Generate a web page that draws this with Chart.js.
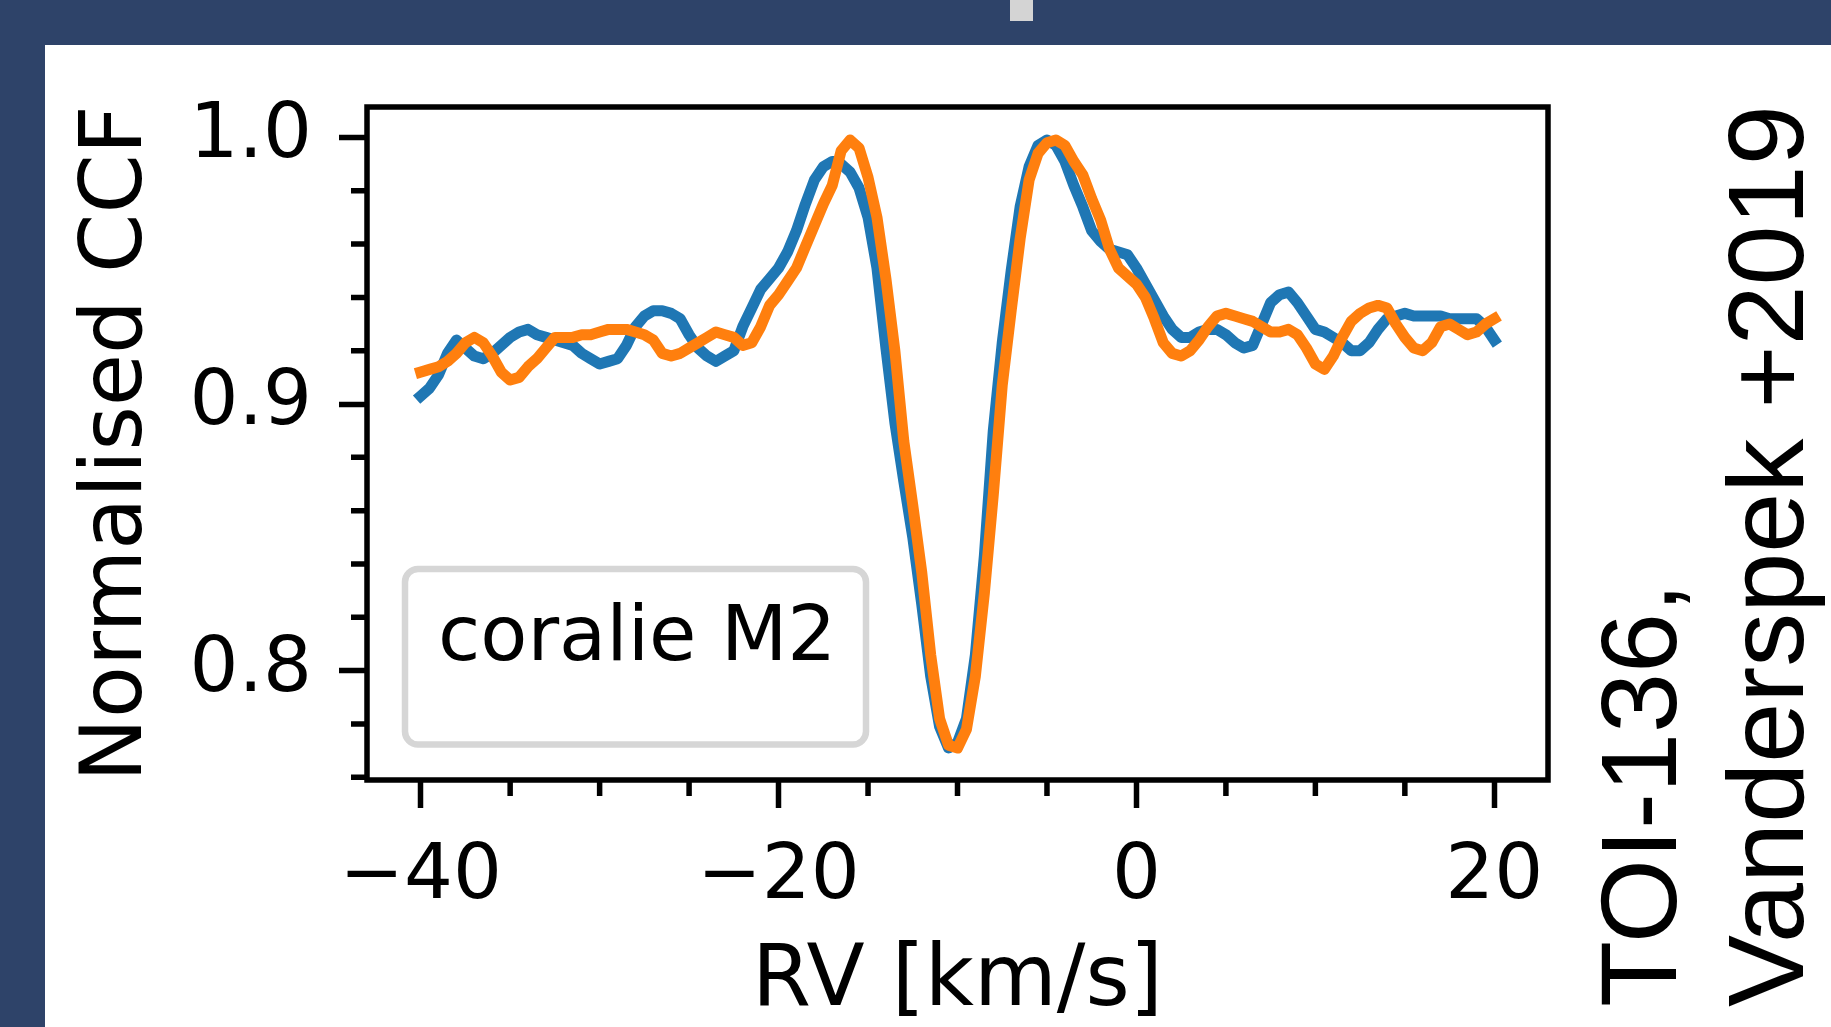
<!DOCTYPE html>
<html>
<head>
<meta charset="utf-8">
<script src="https://cdn.jsdelivr.net/npm/chart.js@4/dist/chart.umd.min.js"></script>
<style>
	html, body { margin: 0; padding: 0; }
	body { width: 1831px; height: 1027px; background: #2e4369; position: relative; overflow: hidden; }
	#tab { position: absolute; left: 1010px; top: 0; width: 23px; height: 21px; background: #d4d4d4; }
	#panel { position: absolute; left: 45px; top: 45px; width: 1786px; height: 982px; background: #fff; }
</style>
</head>
<body>
<div id="tab"></div>
<div id="panel"><canvas id="ccf" width="1786" height="982"></canvas></div>
<script>
/* data */
const rvKms = [
	-40, -39.5, -39, -38.5, -38, -37.5, -37, -36.5, -36, -35.5,
	-35, -34.5, -34, -33.5, -33, -32.5, -32, -31.5, -31, -30.5,
	-30, -29.5, -29, -28.5, -28, -27.5, -27, -26.5, -26, -25.5,
	-25, -24.5, -24, -23.5, -23, -22.5, -22, -21.5, -21, -20.5,
	-20, -19.5, -19, -18.5, -18, -17.5, -17, -16.5, -16, -15.5,
	-15, -14.5, -14, -13.5, -13, -12.5, -12, -11.5, -11, -10.5,
	-10, -9.5, -9, -8.5, -8, -7.5, -7, -6.5, -6, -5.5,
	-5, -4.5, -4, -3.5, -3, -2.5, -2, -1.5, -1, -0.5,
	0, 0.5, 1, 1.5, 2, 2.5, 3, 3.5, 4, 4.5,
	5, 5.5, 6, 6.5, 7, 7.5, 8, 8.5, 9, 9.5,
	10, 10.5, 11, 11.5, 12, 12.5, 13, 13.5, 14, 14.5,
	15, 15.5, 16, 16.5, 17, 17.5, 18, 18.5, 19, 19.5,
	20,
];

// blue curve
const ccfObsA = [
	0.903, 0.906, 0.911, 0.919, 0.924, 0.921, 0.918, 0.917, 0.919, 0.922,
	0.925, 0.927, 0.928, 0.926, 0.925, 0.924, 0.923, 0.922, 0.919, 0.917,
	0.915, 0.916, 0.917, 0.922, 0.929, 0.933, 0.935, 0.935, 0.934, 0.932,
	0.926, 0.921, 0.918, 0.916, 0.918, 0.920, 0.929, 0.936, 0.943, 0.947,
	0.951, 0.957, 0.965, 0.975, 0.984, 0.989, 0.991, 0.990, 0.987, 0.981,
	0.970, 0.951, 0.921, 0.893, 0.871, 0.850, 0.825, 0.798, 0.779, 0.771,
	0.773, 0.782, 0.806, 0.843, 0.890, 0.923, 0.950, 0.974, 0.989, 0.997,
	0.999, 0.997, 0.991, 0.982, 0.974, 0.965, 0.961, 0.958, 0.957, 0.956,
	0.951, 0.945, 0.939, 0.933, 0.928, 0.925, 0.925, 0.927, 0.928, 0.928,
	0.926, 0.923, 0.921, 0.922, 0.930, 0.938, 0.941, 0.942, 0.938, 0.933,
	0.928, 0.927, 0.925, 0.923, 0.920, 0.920, 0.923, 0.928, 0.932, 0.933,
	0.934, 0.933, 0.933, 0.933, 0.933, 0.932, 0.932, 0.932, 0.932, 0.929,
	0.924,
];

// orange curve
const ccfObsB = [
	0.912, 0.913, 0.914, 0.916, 0.919, 0.923, 0.925, 0.923, 0.918, 0.912,
	0.909, 0.910, 0.914, 0.917, 0.921, 0.925, 0.925, 0.925, 0.926, 0.926,
	0.927, 0.928, 0.928, 0.928, 0.927, 0.926, 0.924, 0.919, 0.918, 0.919,
	0.921, 0.923, 0.925, 0.927, 0.926, 0.925, 0.922, 0.923, 0.929, 0.937,
	0.941, 0.946, 0.951, 0.959, 0.967, 0.975, 0.982, 0.995, 0.999, 0.996,
	0.985, 0.970, 0.947, 0.920, 0.886, 0.862, 0.837, 0.806, 0.782, 0.772,
	0.771, 0.778, 0.798, 0.829, 0.866, 0.907, 0.935, 0.962, 0.984, 0.994,
	0.998, 0.999, 0.997, 0.991, 0.986, 0.977, 0.969, 0.958, 0.951, 0.948,
	0.945, 0.940, 0.932, 0.923, 0.919, 0.918, 0.920, 0.924, 0.929, 0.933,
	0.934, 0.933, 0.932, 0.931, 0.929, 0.927, 0.927, 0.928, 0.926, 0.921,
	0.915, 0.913, 0.918, 0.925, 0.931, 0.934, 0.936, 0.937, 0.936, 0.930,
	0.925, 0.921, 0.920, 0.923, 0.929, 0.930, 0.928, 0.926, 0.927, 0.930,
	0.932,
];

const xMajorTicks = [-40, -20, 0, 20];
const xMinorTicks = [-35, -30, -25, -15, -10, -5, 5, 10, 15];
const yMajorTicks = [0.8, 0.9, 1.0];
const yMinorTicks = [0.76, 0.78, 0.82, 0.84, 0.86, 0.88, 0.92, 0.94, 0.96, 0.98];

const xLimits = [-43, 23];
const yLimits = [0.759, 1.0114];

const legendLabel = 'coralie M2';
const sideLines = ['TOI-136,', 'Vanderspek +2019'];

/* chart */
Chart.defaults.font.family = 'DejaVu Sans';
Chart.defaults.color = '#000';

const toPoints = (values) => rvKms.map((x, i) => ({ x, y: values[i] }));

const formatRv = (v) => (v < 0 ? '\u2212' + Math.abs(v) : String(v));

const lineStyle = {
	borderWidth: 11,
	pointRadius: 0,
	tension: 0,
	borderJoinStyle: 'round',
	borderCapStyle: 'square',
	fill: false,
};

const roundedBox = (ctx, x, y, w, h, r) => {
	ctx.beginPath();
	ctx.moveTo(x + r, y);
	ctx.arcTo(x + w, y, x + w, y + h, r);
	ctx.arcTo(x + w, y + h, x, y + h, r);
	ctx.arcTo(x, y + h, x, y, r);
	ctx.arcTo(x, y, x + w, y, r);
	ctx.closePath();
};

const extras = {
	id: 'extras',
	afterDatasetsDraw(chart) {
		const { ctx, chartArea: a, scales: { x, y } } = chart;
		ctx.save();

		// minor ticks
		ctx.strokeStyle = '#000';
		ctx.lineWidth = 5.5;
		ctx.beginPath();
		xMinorTicks.forEach((v) => {
			const px = x.getPixelForValue(v);
			ctx.moveTo(px, a.bottom);
			ctx.lineTo(px, a.bottom + 16);
		});
		yMinorTicks.forEach((v) => {
			const py = y.getPixelForValue(v);
			ctx.moveTo(a.left, py);
			ctx.lineTo(a.left - 16, py);
		});
		ctx.stroke();

		// frame
		ctx.lineWidth = 5.5;
		ctx.strokeRect(a.left, a.top, a.width, a.height);

		// legend box
		roundedBox(ctx, a.left + 38, a.bottom - 211, 461, 175.5, 13);
		ctx.fillStyle = '#fff';
		ctx.fill();
		ctx.strokeStyle = '#d6d6d6';
		ctx.lineWidth = 6.5;
		ctx.stroke();
		ctx.fillStyle = '#000';
		ctx.font = '77px "DejaVu Sans"';
		ctx.textBaseline = 'alphabetic';
		ctx.textAlign = 'left';
		ctx.fillText(legendLabel, a.left + 71, a.bottom - 120);

		// rotated note on the right
		ctx.font = '108px "Liberation Sans"';
		sideLines.forEach((line, i) => {
			ctx.save();
			ctx.translate(a.right + 128 + i * 127, 962);
			ctx.rotate(-Math.PI / 2);
			ctx.fillText(line, 0, 0);
			ctx.restore();
		});

		ctx.restore();
	},
};

const axisTicks = {
	drawOnChartArea: false,
	tickLength: 28,
	tickWidth: 5.5,
	tickColor: '#000',
};

new Chart(document.getElementById('ccf'), {
	type: 'line',
	data: {
		datasets: [
			{ ...lineStyle, label: 'A', order: 1, borderColor: '#1f77b4', data: toPoints(ccfObsA) },
			{ ...lineStyle, label: 'B', order: 0, borderColor: '#ff7f0e', data: toPoints(ccfObsB) },
		],
	},
	options: {
		responsive: false,
		animation: false,
		layout: { padding: { top: 62, right: 283, left: 0, bottom: 0 } },
		plugins: {
			legend: { display: false },
			tooltip: { enabled: false },
		},
		scales: {
			x: {
				type: 'linear',
				min: xLimits[0],
				max: xLimits[1],
				afterFit: (scale) => { scale.height = 247; },
				afterBuildTicks: (scale) => { scale.ticks = xMajorTicks.map((value) => ({ value })); },
				grid: axisTicks,
				border: { display: false },
				ticks: {
					font: { size: 77 },
					color: '#000',
					padding: 24,
					maxRotation: 0,
					autoSkip: false,
					callback: (v) => formatRv(v),
				},
				title: {
					display: true,
					text: 'RV [km/s]',
					color: '#000',
					font: { size: 85, lineHeight: 1 },
					padding: { top: 0, bottom: 2 },
				},
			},
			y: {
				type: 'linear',
				min: yLimits[0],
				max: yLimits[1],
				afterFit: (scale) => {
					scale.width = 322;
					// labels sit inside the top margin already
					scale.paddingTop = 0;
					scale.paddingBottom = 0;
				},
				afterBuildTicks: (scale) => { scale.ticks = yMajorTicks.map((value) => ({ value })); },
				grid: axisTicks,
				border: { display: false },
				ticks: {
					font: { size: 77 },
					color: '#000',
					padding: 27,
					autoSkip: false,
					callback: (v) => v.toFixed(1),
				},
				title: {
					display: true,
					text: 'Normalised CCF',
					color: '#000',
					font: { size: 85 },
					padding: { top: 23, bottom: 0 },
				},
			},
		},
	},
	plugins: [extras],
});
</script>
</body>
</html>
